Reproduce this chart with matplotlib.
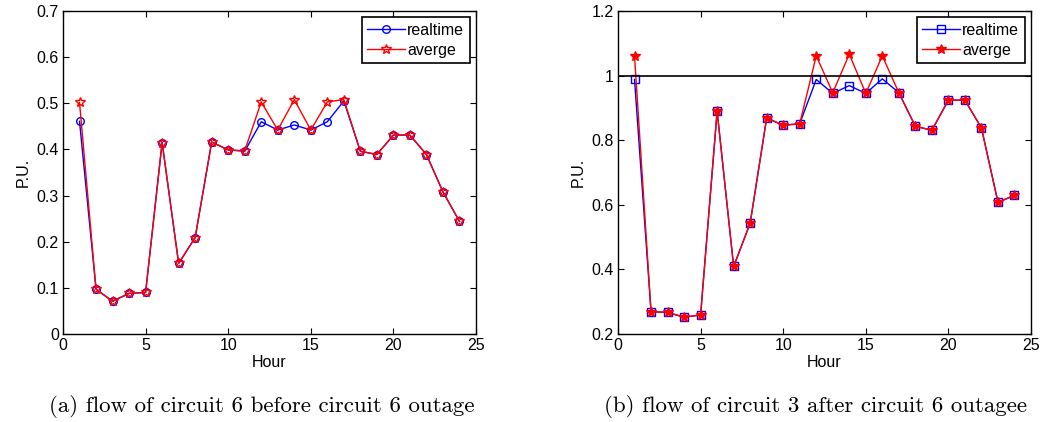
import numpy as np
import matplotlib
matplotlib.use("Agg")
import matplotlib.pyplot as plt

hours = np.arange(1, 25)

# (a) circuit 6 before outage
real_a = [0.461, 0.097, 0.071, 0.088, 0.090, 0.415, 0.153, 0.209, 0.416, 0.399,
          0.396, 0.460, 0.442, 0.453, 0.442, 0.460, 0.505, 0.396, 0.389, 0.431,
          0.431, 0.389, 0.308, 0.244]
avg_a = [0.502, 0.097, 0.071, 0.088, 0.090, 0.415, 0.153, 0.209, 0.416, 0.399,
         0.397, 0.503, 0.442, 0.508, 0.442, 0.503, 0.508, 0.396, 0.389, 0.431,
         0.431, 0.389, 0.308, 0.244]

# (b) circuit 3 after outage
real_b = [0.988, 0.269, 0.267, 0.252, 0.259, 0.890, 0.409, 0.543, 0.869, 0.846,
          0.851, 0.988, 0.945, 0.969, 0.945, 0.990, 0.947, 0.843, 0.831, 0.924,
          0.924, 0.838, 0.608, 0.629]
avg_b = [1.061, 0.269, 0.267, 0.252, 0.259, 0.890, 0.409, 0.543, 0.869, 0.846,
         0.851, 1.061, 0.947, 1.066, 0.945, 1.061, 0.947, 0.843, 0.831, 0.924,
         0.924, 0.838, 0.608, 0.629]

captions = ["(a) flow of circuit 6 before circuit 6 outage",
            "(b) flow of circuit 3 after circuit 6 outagee"]

plt.rcParams['font.family'] = ['Liberation Sans', 'DejaVu Sans']
plt.rcParams['font.size'] = 11.5

fig = plt.figure(figsize=(10.45, 4.22), dpi=100)
W, H = 1045.0, 422.0


def make_axes(x0, x1, y0, y1):
    ax = fig.add_axes([x0 / W, 1 - y1 / H, (x1 - x0) / W, (y1 - y0) / H])
    ax.tick_params(direction='in', top=True, right=True, length=4, width=0.8,
                   labelsize=11.5, pad=3)
    for s in ax.spines.values():
        s.set_linewidth(1.0)
    ax.set_xlim(0, 25)
    ax.set_xticks([0, 5, 10, 15, 20, 25])
    ax.set_xlabel("Hour", labelpad=1)
    ax.set_ylabel("P.U.", labelpad=4)
    return ax


def add_legend(ax):
    leg = ax.legend(loc='upper right', fancybox=False, edgecolor='black',
                    handlelength=2.4, borderpad=0.35, labelspacing=0.3,
                    handletextpad=0.1, borderaxespad=0.4, framealpha=1)
    leg.get_frame().set_linewidth(1.2)


ax1 = make_axes(63, 476, 11, 334)
ax1.plot(hours, real_a, color='blue', lw=1, marker='o', ms=5.5, mfc='none',
         mew=1, label='realtime')
ax1.plot(hours, avg_a, color='red', lw=1, marker='*', ms=7.5, mfc='none',
         mew=1, label='averge')
ax1.set_ylim(0, 0.7)
ax1.set_yticks(np.arange(0, 0.71, 0.1))
ax1.set_yticklabels(["0", "0.1", "0.2", "0.3", "0.4", "0.5", "0.6", "0.7"])
add_legend(ax1)

ax2 = make_axes(618, 1031, 11, 334)
ax2.plot(hours, real_b, color='blue', lw=1, marker='s', ms=5.5, mfc='none',
         mew=1, label='realtime')
ax2.plot(hours, avg_b, color='red', lw=1, marker='*', ms=7.5,
         mew=1, label='averge')
ax2.axhline(1.0, color='black', lw=1.2)
ax2.set_ylim(0.2, 1.2)
ax2.set_yticks([0.2, 0.4, 0.6, 0.8, 1.0, 1.2])
ax2.set_yticklabels(["0.2", "0.4", "0.6", "0.8", "1", "1.2"])
add_legend(ax2)

fig.text(262 / W, 1 - 407 / H, captions[0], family='cmr10', fontsize=16.5,
         ha='center', va='center')
fig.text(816 / W, 1 - 407 / H, captions[1], family='cmr10', fontsize=16.5,
         ha='center', va='center')

plt.savefig("out.png", dpi=100)
